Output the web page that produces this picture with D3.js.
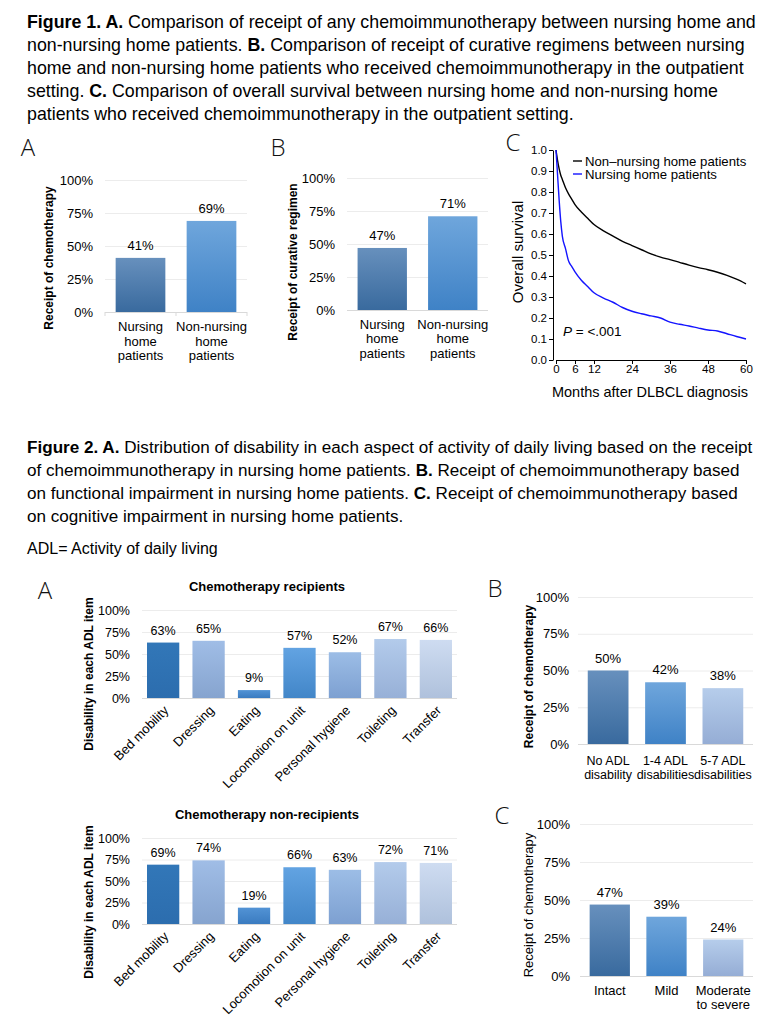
<!DOCTYPE html>
<html>
<head>
<meta charset="utf-8">
<script src="https://cdn.jsdelivr.net/npm/d3@7"></script>
<style>
  body { margin: 0; background: #fff; }
  svg { display: block; font-family: "Liberation Sans", Arial, sans-serif; }
</style>
</head>
<body>
<svg width="783" height="1024"></svg>
<script>
// ---- data ----
const caption1 = [
  [["Figure 1. A.", true], [" Comparison of receipt of any chemoimmunotherapy between nursing home and", false]],
  [["non-nursing home patients. ", false], ["B.", true], [" Comparison of receipt of curative regimens between nursing", false]],
  [["home and non-nursing home patients who received chemoimmunotherapy in the outpatient", false]],
  [["setting. ", false], ["C.", true], [" Comparison of overall survival between nursing home and non-nursing home", false]],
  [["patients who received chemoimmunotherapy in the outpatient setting.", false]]
];
const caption2 = [
  [["Figure 2. A.", true], [" Distribution of disability in each aspect of activity of daily living based on the receipt", false]],
  [["of chemoimmunotherapy in nursing home patients. ", false], ["B.", true], [" Receipt of chemoimmunotherapy based", false]],
  [["on functional impairment in nursing home patients. ", false], ["C.", true], [" Receipt of chemoimmunotherapy based", false]],
  [["on cognitive impairment in nursing home patients.", false]]
];
const footnote = "ADL= Activity of daily living";

const pctTicks = [0, 25, 50, 75, 100];

const patientGroups = [["Nursing", "home", "patients"], ["Non-nursing", "home", "patients"]];
const chemoReceipt = [41, 69];
const curativeReceipt = [47, 71];

const survMonths = [0, 0.5, 1, 1.5, 2, 3, 4, 5, 6, 8, 10, 12, 15, 18, 21, 24, 27, 30, 33, 36, 39, 42, 45, 48, 51, 54, 57, 60];
const survNonNursing = [1.0, 0.95, 0.91, 0.88, 0.86, 0.82, 0.79, 0.765, 0.74, 0.705, 0.675, 0.645, 0.615, 0.59, 0.565, 0.545, 0.525, 0.505, 0.49, 0.478, 0.465, 0.452, 0.44, 0.43, 0.418, 0.403, 0.385, 0.363];
const survNursing = [1.0, 0.88, 0.76, 0.66, 0.59, 0.53, 0.47, 0.445, 0.42, 0.38, 0.35, 0.32, 0.295, 0.275, 0.25, 0.232, 0.22, 0.21, 0.2, 0.18, 0.17, 0.162, 0.152, 0.143, 0.138, 0.125, 0.112, 0.10];
const survTicks = [0, 0.1, 0.2, 0.3, 0.4, 0.5, 0.6, 0.7, 0.8, 0.9, 1.0];
const monthTicks = [0, 6, 12, 24, 36, 48, 60];

const adlItems = ["Bed mobility", "Dressing", "Eating", "Locomotion on unit", "Personal hygiene", "Toileting", "Transfer"];
const adlRecipients = [63, 65, 9, 57, 52, 67, 66];
const adlNonRecipients = [69, 74, 19, 66, 63, 72, 71];

const adlGroups = [["No ADL", "disability"], ["1-4 ADL", "disabilities"], ["5-7 ADL", "disabilities"]];
const adlGroupReceipt = [50, 42, 38];
const cognitionGroups = [["Intact"], ["Mild"], ["Moderate", "to severe"]];
const cognitionReceipt = [47, 39, 24];

// ---- setup ----
const svg = d3.select("svg");
const defs = svg.append("defs");

// vertical gradients like the office-style bars
const gradient = (id, top, bottom) => {
  const lg = defs.append("linearGradient").attr("id", id)
    .attr("x1", 0).attr("y1", 0).attr("x2", 0).attr("y2", 1);
  lg.append("stop").attr("offset", "0%").attr("stop-color", top);
  lg.append("stop").attr("offset", "100%").attr("stop-color", bottom);
  return `url(#${id})`;
};
const gSteel = gradient("gSteel", "#6790bd", "#396a9e");
const gBlue = gradient("gBlue", "#6fa6dc", "#3f82c6");
const gPale = gradient("gPale", "#b6cdeb", "#95add5");
const adlFills = [
  gradient("a0", "#3277b8", "#2c6dae"),
  gradient("a1", "#a0bde6", "#86a4cf"),
  gradient("a2", "#5293d5", "#3a7bc0"),
  gradient("a3", "#62a3e2", "#4286c8"),
  gradient("a4", "#9cbde6", "#7da0d1"),
  gradient("a5", "#b3cbeb", "#97b0d7"),
  gradient("a6", "#cedcf1", "#afc1dc")
];

// captions
const caption = (lines, y0, size) => {
  lines.forEach((line, i) => {
    const t = svg.append("text").attr("x", 27).attr("y", y0 + i * 23)
      .attr("font-size", size).attr("fill", "#000");
    line.forEach(([s, b]) => t.append("tspan").attr("font-weight", b ? "bold" : "normal").text(s));
  });
};
caption(caption1, 28, 17.8);
caption(caption2, 453, 17.1);
svg.append("text").attr("x", 27).attr("y", 554).attr("font-size", 16).text(footnote);

// panel letters
const letter = (s, x, y) => svg.append("text").attr("x", x).attr("y", y)
  .attr("text-anchor", "middle").attr("font-family", "'Open Sans', sans-serif")
  .attr("font-weight", 300).attr("font-size", 24).attr("fill", "#111").text(s);
letter("A", 28, 156);
letter("B", 278, 156);
letter("C", 513, 151);
letter("A", 45, 599);
letter("B", 495, 597);
letter("C", 502, 824);

// ---- generic bar panel ----
const barPanel = (o) => {
  const g = svg.append("g");
  const x = d3.scaleBand().domain(d3.range(o.vals.length)).range(o.xr)
    .paddingInner(o.pi || 0.3).paddingOuter(o.po || 0.15);
  const y = d3.scaleLinear().domain([0, 100]).range(o.yr);

  g.selectAll(".grid").data(pctTicks.slice(1)).enter().append("line")
    .attr("x1", o.xr[0]).attr("x2", o.xr[1])
    .attr("y1", (d) => y(d) + 0.5).attr("y2", (d) => y(d) + 0.5)
    .attr("stroke", "#ececec");
  g.append("line").attr("x1", o.xr[0]).attr("x2", o.xr[1])
    .attr("y1", y(0) + 0.5).attr("y2", y(0) + 0.5).attr("stroke", "#d9d9d9");
  if (o.catTicks) {
    const w = (o.xr[1] - o.xr[0]) / o.vals.length;
    g.selectAll(".ct").data(d3.range(o.vals.length + 1)).enter().append("line")
      .attr("x1", (d) => o.xr[0] + d * w).attr("x2", (d) => o.xr[0] + d * w)
      .attr("y1", y(0)).attr("y2", y(0) + 4).attr("stroke", "#d9d9d9");
  }

  const ax = g.append("g").attr("transform", `translate(${o.tickX},0)`)
    .call(d3.axisLeft(y).tickValues(pctTicks).tickSize(0).tickPadding(0).tickFormat((d) => d + "%"));
  ax.select(".domain").remove();
  ax.attr("font-size", o.fs).attr("font-family", "'Liberation Sans', Arial, sans-serif");
  ax.selectAll("text").attr("fill", "#000");

  g.selectAll(".bar").data(o.vals).enter().append("rect")
    .attr("x", (d, i) => x(i)).attr("width", x.bandwidth())
    .attr("y", (d) => y(d)).attr("height", (d) => y(0) - y(d))
    .attr("fill", (d, i) => o.fills[i]);

  g.selectAll(".val").data(o.vals).enter().append("text")
    .attr("x", (d, i) => x(i) + x.bandwidth() / 2).attr("y", (d) => y(d) - 8)
    .attr("text-anchor", "middle").attr("font-size", o.fs).text((d) => d + "%");

  if (o.rotate) {
    g.selectAll(".cat").data(o.cats).enter().append("text")
      .attr("transform", (d, i) => `translate(${x(i) + x.bandwidth() / 2 + 3},${y(0) + 10}) rotate(-45)`)
      .attr("text-anchor", "end").attr("dy", "0.35em").attr("font-size", o.catFs).text((d) => d);
  } else {
    o.cats.forEach((lines, i) => {
      lines.forEach((s, j) => g.append("text")
        .attr("x", x(i) + x.bandwidth() / 2).attr("y", y(0) + o.catDy + j * o.catLh)
        .attr("text-anchor", "middle").attr("font-size", o.catFs).text(s));
    });
  }

  const cy = (o.yr[0] + o.yr[1]) / 2 + (o.titleShift || 0);
  g.append("text").attr("transform", `translate(${o.titleX},${cy}) rotate(-90)`)
    .attr("text-anchor", "middle").attr("font-weight", o.titleWeight || "bold")
    .attr("font-size", o.titleFs || 12).text(o.title);

  if (o.heading) {
    g.append("text").attr("x", o.headingX).attr("y", o.headingY).attr("text-anchor", "middle")
      .attr("font-weight", "bold").attr("font-size", 13).text(o.heading);
  }
};

// Figure 1 A, B
barPanel({ vals: chemoReceipt, cats: patientGroups, fills: [gSteel, gBlue],
  xr: [105, 247], yr: [312, 180], tickX: 93, fs: 13, catFs: 13, catDy: 19, catLh: 14.5,
  catTicks: true, title: "Receipt of chemotherapy", titleX: 53, titleShift: 12 });
barPanel({ vals: curativeReceipt, cats: patientGroups, fills: [gSteel, gBlue],
  xr: [347, 488], yr: [310, 178], tickX: 335, fs: 13, catFs: 13, catDy: 18.5, catLh: 14.5,
  catTicks: false, title: "Receipt of curative regimen", titleX: 297, titleShift: 18 });

// Figure 1 C: survival curves
{
  const g = svg.append("g");
  const sx = d3.scaleLinear().domain([0, 60]).range([556, 746]);
  const sy = d3.scaleLinear().domain([0, 1]).range([360, 150]);
  const ya = g.append("g").attr("transform", "translate(553,0)")
    .call(d3.axisLeft(sy).tickValues(survTicks).tickSize(4).tickSizeOuter(0).tickPadding(2).tickFormat(d3.format(".1f")));
  const xa = g.append("g").attr("transform", "translate(0,360)")
    .call(d3.axisBottom(sx).tickValues(monthTicks).tickSize(4).tickSizeOuter(0).tickPadding(1));
  [ya, xa].forEach((a) => {
    a.attr("font-size", 11.5).attr("font-family", "'Liberation Sans', Arial, sans-serif");
    a.selectAll("text").attr("fill", "#000");
    a.selectAll("line,path").attr("stroke", "#000");
  });
  const line = (vals) => d3.line().curve(d3.curveMonotoneX)
    .x((d, i) => sx(survMonths[i])).y((d) => sy(d))(vals);
  g.append("path").attr("d", line(survNonNursing)).attr("fill", "none").attr("stroke", "#000").attr("stroke-width", 1.4);
  g.append("path").attr("d", line(survNursing)).attr("fill", "none").attr("stroke", "#1414ff").attr("stroke-width", 1.4);

  const legend = [["Non\u2013nursing home patients", "#000"], ["Nursing home patients", "#1414ff"]];
  legend.forEach(([s, c], i) => {
    g.append("line").attr("x1", 573).attr("x2", 582).attr("y1", 161 + i * 13).attr("y2", 161 + i * 13)
      .attr("stroke", c).attr("stroke-width", 1.4);
    g.append("text").attr("x", 585).attr("y", 165.5 + i * 13).attr("font-size", 13.2).text(s);
  });
  const p = g.append("text").attr("x", 563).attr("y", 336).attr("font-size", 13.5);
  p.append("tspan").attr("font-style", "italic").text("P");
  p.append("tspan").text(" = <.001");

  g.append("text").attr("x", 650).attr("y", 397).attr("text-anchor", "middle")
    .attr("font-size", 14.5).text("Months after DLBCL diagnosis");
  g.append("text").attr("transform", "translate(523,252) rotate(-90)").attr("text-anchor", "middle")
    .attr("font-size", 15).text("Overall survival");
}

// Figure 2 A (two panels)
barPanel({ vals: adlRecipients, cats: adlItems, fills: adlFills, rotate: true,
  xr: [142, 457], yr: [698, 610], pi: 0.29, po: 0.11, tickX: 130, fs: 12.5, catFs: 13,
  title: "Disability in each ADL item", titleX: 93, titleShift: 20,
  heading: "Chemotherapy recipients", headingX: 267, headingY: 591 });
barPanel({ vals: adlNonRecipients, cats: adlItems, fills: adlFills, rotate: true,
  xr: [142, 457], yr: [924, 838], pi: 0.29, po: 0.11, tickX: 130, fs: 12.5, catFs: 13,
  title: "Disability in each ADL item", titleX: 93, titleShift: 21,
  heading: "Chemotherapy non-recipients", headingX: 267, headingY: 819 });

// Figure 2 B, C
barPanel({ vals: adlGroupReceipt, cats: adlGroups, fills: [gSteel, gBlue, gPale],
  xr: [578, 753], yr: [744, 597], pi: 0.29, po: 0.17, tickX: 569, fs: 13, catFs: 12.5, catDy: 21, catLh: 13.5,
  title: "Receipt of chemotherapy", titleX: 533, titleShift: 6 });
barPanel({ vals: cognitionReceipt, cats: cognitionGroups, fills: [gSteel, gBlue, gPale],
  xr: [580, 753], yr: [976, 824], pi: 0.29, po: 0.17, tickX: 570, fs: 13, catFs: 13, catDy: 19, catLh: 14,
  title: "Receipt of chemotherapy", titleX: 533, titleShift: 5, titleWeight: "normal", titleFs: 13 });
</script>
</body>
</html>
